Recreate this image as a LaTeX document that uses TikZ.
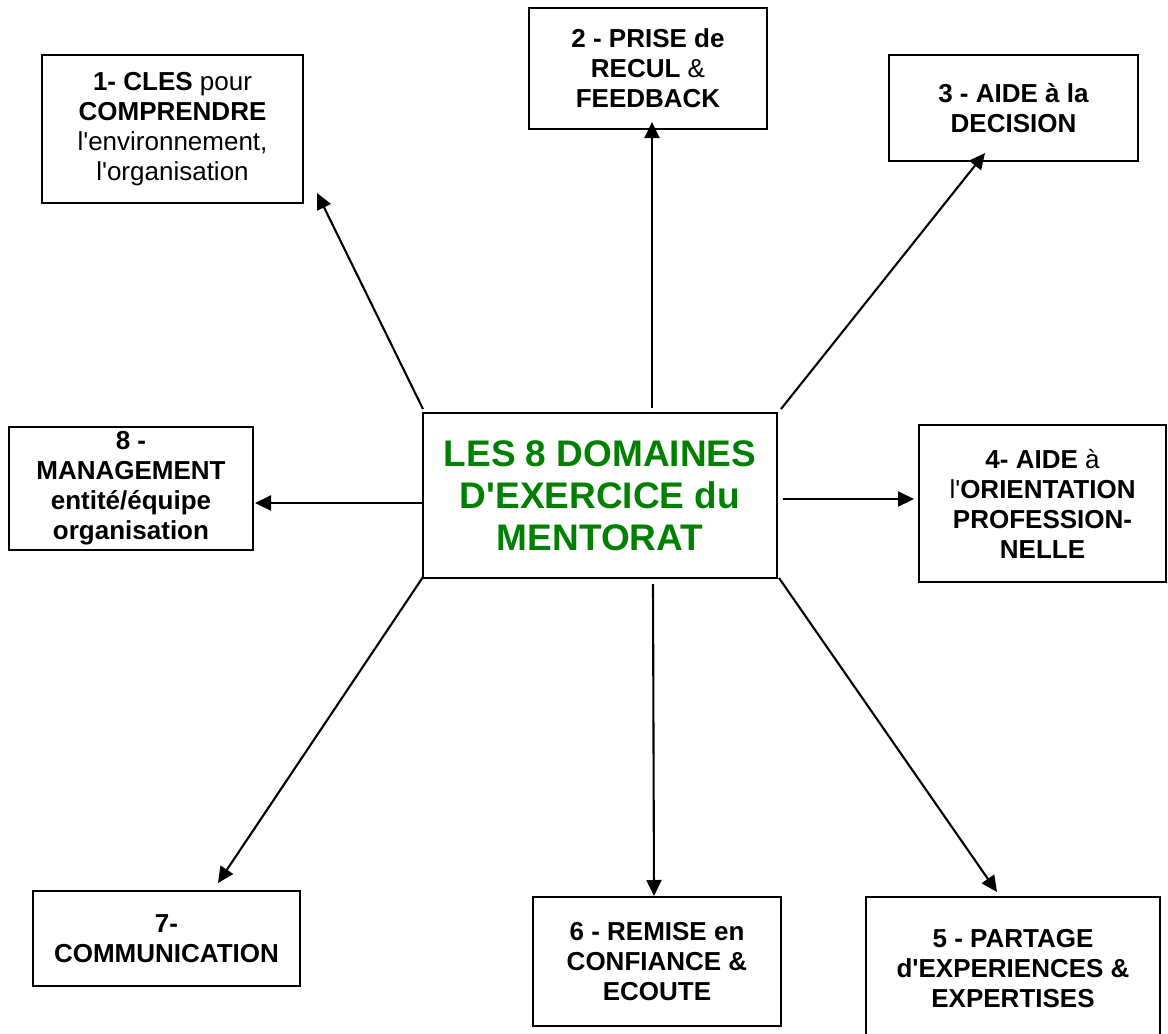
\documentclass[tikz,border=0pt]{standalone}
\usepackage{fontspec}
\setmainfont{Liberation Sans}[Ligatures=TeXOff]
\usetikzlibrary{arrows.meta}
\definecolor{wordgreen}{RGB}{0,128,0}
\begin{document}
\begin{tikzpicture}[x=1pt,y=-1pt,
  box/.style={draw, line width=1.8pt, inner sep=0pt, align=center,
    font=\fontsize{26}{30}\selectfont},
  centre/.style={draw, line width=1.8pt, inner sep=0pt, align=center,
    text=wordgreen, font=\fontsize{37}{42}\selectfont\bfseries},
  arr/.style={line width=2.1pt, -{Triangle[length=16pt,width=15pt]}}]
\useasboundingbox (0,0) rectangle (1168,1034);
\begin{scope}
\clip (0,0) rectangle (1168,1034);
\node[centre, minimum width=354pt, minimum height=165pt] (c) at (600,495.5)
  {LES 8 DOMAINES\\D'EXERCICE du\\MENTORAT};
\node[box, minimum width=261pt, minimum height=148pt] (b1) at (172.5,129)
  {\textbf{1- CLES} pour\\\textbf{COMPRENDRE}\\l'environnement,\\l'organisation};
\node[box, minimum width=238pt, minimum height=121pt] (b2) at (648,68.5)
  {\textbf{2 - PRISE de}\\\textbf{RECUL} \&\\\textbf{FEEDBACK}};
\node[box, minimum width=249pt, minimum height=106pt] (b3) at (1013.5,108)
  {\textbf{3 - AIDE à la}\\\textbf{DECISION}};
\node[box, minimum width=247pt, minimum height=157pt] (b4) at (1042.5,503.5)
  {\textbf{4- AIDE} à\\l'\textbf{ORIENTATION}\\\textbf{PROFESSION-}\\\textbf{NELLE}};
\node[box, minimum width=294pt, minimum height=143pt] (b5) at (1013,968.5)
  {\textbf{5 - PARTAGE}\\\textbf{d'EXPERIENCES \&}\\\textbf{EXPERTISES}};
\node[box, minimum width=248pt, minimum height=129pt] (b6) at (657,961.5)
  {\textbf{6 - REMISE en}\\\textbf{CONFIANCE \&}\\\textbf{ECOUTE}};
\node[box, minimum width=267pt, minimum height=95pt] (b7) at (166.5,938.5)
  {\textbf{7-}\\\textbf{COMMUNICATION}};
\node[box, minimum width=244pt, minimum height=123pt] (b8) at (131,488.5)
  {\textbf{8 -}\\\textbf{MANAGEMENT}\\\textbf{entité/équipe}\\\textbf{organisation}};
\end{scope}
% arrow end points
\coordinate (s1) at (423,409);  \coordinate (t1) at (317,193);
\coordinate (s2) at (652,408);  \coordinate (t2) at (652,122);
\coordinate (s3) at (781,409);  \coordinate (t3) at (985,153);
\coordinate (s4) at (783,499);  \coordinate (t4) at (914,499);
\coordinate (s5) at (779,578);  \coordinate (t5) at (997,892);
\coordinate (s6) at (653,584);  \coordinate (t6) at (654,896);
\coordinate (s7) at (423,577);  \coordinate (t7) at (218,883);
\coordinate (s8) at (423,503);  \coordinate (t8) at (255,503);
\draw[arr] (s1) -- (t1);
\draw[arr] (s2) -- (t2);
\draw[arr] (s3) -- (t3);
\draw[arr] (s4) -- (t4);
\draw[arr] (s5) -- (t5);
\draw[arr] (s6) -- (t6);
\draw[arr] (s7) -- (t7);
\draw[arr] (s8) -- (t8);
\end{tikzpicture}
\end{document}
